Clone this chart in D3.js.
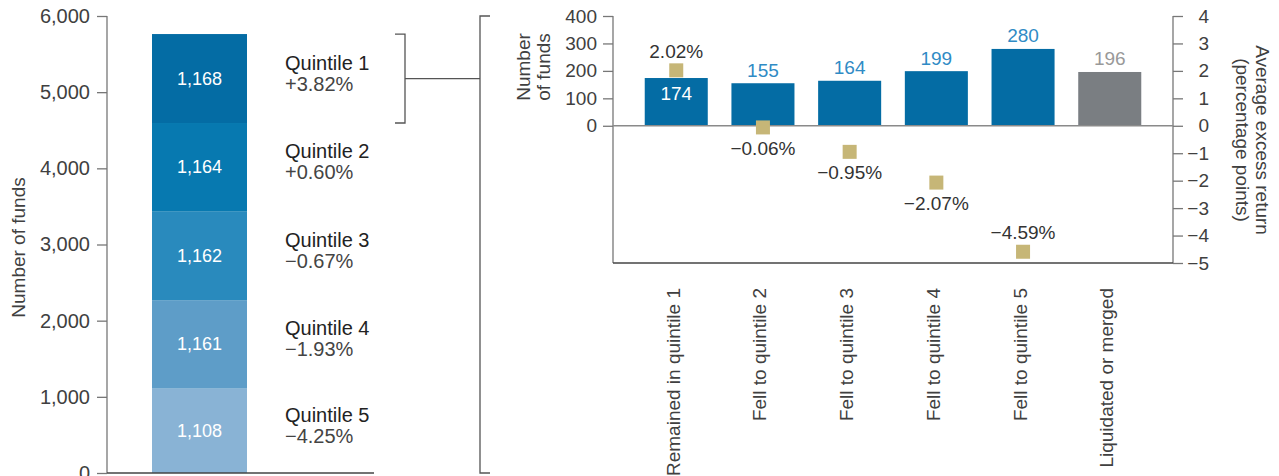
<!DOCTYPE html>
<html>
<head>
<meta charset="utf-8">
<script src="https://cdn.jsdelivr.net/npm/d3@7"></script>
<style>
  html, body { margin: 0; padding: 0; background: #fff; }
  svg { display: block; }
  text { font-family: "Liberation Sans", Arial, sans-serif; }
</style>
</head>
<body>
<svg id="chart" width="1279" height="476"></svg>
<script>
// ---- Data ----
const quintiles = ["Quintile 1", "Quintile 2", "Quintile 3", "Quintile 4", "Quintile 5"];
const quintileCounts = [1168, 1164, 1162, 1161, 1108];
const quintileReturns = ["+3.82%", "+0.60%", "\u22120.67%", "\u22121.93%", "\u22124.25%"];
const leftTicks = [0, 1000, 2000, 3000, 4000, 5000, 6000];

const outcomes = ["Remained in quintile 1", "Fell to quintile 2", "Fell to quintile 3", "Fell to quintile 4", "Fell to quintile 5", "Liquidated or merged"];
const outcomeCounts = [174, 155, 164, 199, 280, 196];
const outcomeReturns = [2.02, -0.06, -0.95, -2.07, -4.59, null];
const fundTicks = [0, 100, 200, 300, 400];
const returnTicks = [-5, -4, -3, -2, -1, 0, 1, 2, 3, 4];

// ---- Styles ----
const segColors = ["#046ca4", "#0779b0", "#298abd", "#5e9dc8", "#89b3d5"];
const barBlue = "#046ca4";
const barGray = "#7a7e82";
const labelBlue = "#2f8bc5";
const markerColor = "#c6b677";
const axisColor = "#777";
const textColor = "#404040";
const fs = 19;
const fsL = 20;

const svg = d3.select("#chart");
const fmt = d3.format(",");
const minus = v => (v < 0 ? "\u2212" : "") + Math.abs(v);

// ================= LEFT CHART =================
const yL = d3.scaleLinear().domain([0, 6000]).range([473, 16]);
const xL = d3.scaleBand().domain(["All funds"]).range([152, 247]).padding(0);
const axisXL = 107;

const gLAxis = svg.append("g").attr("transform", `translate(${axisXL},0)`)
  .call(d3.axisLeft(yL).tickValues(leftTicks).tickSize(10).tickPadding(7).tickFormat(fmt));
gLAxis.select(".domain").remove();
gLAxis.selectAll(".tick line").attr("stroke", axisColor).attr("stroke-width", 1.3);
gLAxis.selectAll(".tick text").attr("font-size", fsL).attr("fill", textColor)
  .attr("font-family", "Liberation Sans, Arial, sans-serif");
svg.append("line").attr("x1", axisXL).attr("x2", axisXL).attr("y1", yL(6000)).attr("y2", yL(0))
  .attr("stroke", axisColor).attr("stroke-width", 1.3);

svg.append("text").attr("transform", `translate(18,${(yL(0) + yL(6000)) / 2 + 3}) rotate(-90)`)
  .attr("text-anchor", "middle").attr("dominant-baseline", "central")
  .attr("font-size", fs).attr("fill", textColor).text("Number of funds");

// stacked segments: bottom is Quintile 5
let stackData = [];
let acc = 0;
for (let i = quintiles.length - 1; i >= 0; i--) {
  stackData.push({ i, y0: acc, y1: acc + quintileCounts[i] });
  acc += quintileCounts[i];
}
const segs = svg.append("g").selectAll("g").data(stackData).join("g");
segs.append("rect")
  .attr("x", xL("All funds")).attr("width", xL.bandwidth())
  .attr("y", d => yL(d.y1)).attr("height", d => yL(d.y0) - yL(d.y1))
  .attr("fill", d => segColors[d.i]);
segs.append("text")
  .attr("x", xL("All funds") + xL.bandwidth() / 2)
  .attr("y", d => (yL(d.y0) + yL(d.y1)) / 2)
  .attr("text-anchor", "middle").attr("dominant-baseline", "central")
  .attr("font-size", 18).attr("fill", "#fff")
  .text(d => fmt(quintileCounts[d.i]));
segs.append("text")
  .attr("x", 285).attr("y", d => (yL(d.y0) + yL(d.y1)) / 2 - 16)
  .attr("dominant-baseline", "central").attr("font-size", fsL).attr("fill", "#222")
  .text(d => quintiles[d.i]);
segs.append("text")
  .attr("x", 285).attr("y", d => (yL(d.y0) + yL(d.y1)) / 2 + 5)
  .attr("dominant-baseline", "central").attr("font-size", fsL).attr("fill", "#444")
  .text(d => quintileReturns[d.i]);

svg.append("line").attr("x1", axisXL).attr("x2", 374).attr("y1", yL(0)).attr("y2", yL(0))
  .attr("stroke", "#444").attr("stroke-width", 1.3);

// bracket around Quintile 1
const q1Top = yL(acc), q1Bot = yL(acc - quintileCounts[0]);
svg.append("path")
  .attr("d", `M395,${q1Top}H405V${q1Bot}H395M405,${(q1Top + q1Bot) / 2}H480M490,16H480V473H490`)
  .attr("fill", "none").attr("stroke", "#555").attr("stroke-width", 1.3);

// ================= RIGHT CHART =================
const x0 = 613, x1 = 1173;
const yRet = d3.scaleLinear().domain([-5, 4]).range([263, 16]);
const yF = d3.scaleLinear().domain([0, 400]).range([yRet(0), yRet(4)]);
const xR = d3.scaleBand().domain(outcomes).range([x0, x1]).paddingInner(0.273).paddingOuter(0.366);

// left axis (funds)
const gFA = svg.append("g").attr("transform", `translate(${x0},0)`)
  .call(d3.axisLeft(yF).tickValues(fundTicks).tickSize(10).tickPadding(6));
gFA.select(".domain").remove();
gFA.selectAll(".tick line").attr("stroke", axisColor).attr("stroke-width", 1.3);
gFA.selectAll(".tick text").attr("font-size", fs).attr("fill", textColor)
  .attr("font-family", "Liberation Sans, Arial, sans-serif");
svg.append("line").attr("x1", x0).attr("x2", x0).attr("y1", yRet(4)).attr("y2", yRet(-5))
  .attr("stroke", axisColor).attr("stroke-width", 1.3);

// right axis (returns)
const gRA = svg.append("g").attr("transform", `translate(${x1},0)`)
  .call(d3.axisRight(yRet).tickValues(returnTicks).tickSize(10).tickPadding(0).tickFormat(minus));
gRA.select(".domain").remove();
gRA.selectAll(".tick line").attr("stroke", axisColor).attr("stroke-width", 1.3);
gRA.selectAll(".tick text").attr("font-size", fs).attr("fill", textColor)
  .attr("font-family", "Liberation Sans, Arial, sans-serif")
  .attr("text-anchor", "end").attr("x", 36);
svg.append("line").attr("x1", x1).attr("x2", x1).attr("y1", yRet(4)).attr("y2", yRet(-5))
  .attr("stroke", axisColor).attr("stroke-width", 1.3);

// bottom line
svg.append("line").attr("x1", x0).attr("x2", x1).attr("y1", yRet(-5)).attr("y2", yRet(-5))
  .attr("stroke", "#444").attr("stroke-width", 1.3);

// axis titles
const t1 = svg.append("text").attr("transform", `translate(535,67) rotate(-90)`)
  .attr("text-anchor", "middle").attr("font-size", fs).attr("fill", textColor);
t1.append("tspan").attr("x", 0).attr("dy", "-0.25em").text("Number");
t1.append("tspan").attr("x", 0).attr("dy", "1.05em").text("of funds");

const t2 = svg.append("text").attr("transform", `translate(1251,140) rotate(90)`)
  .attr("text-anchor", "middle").attr("font-size", fs).attr("fill", textColor);
t2.append("tspan").attr("x", 0).attr("dy", "-0.25em").text("Average excess return");
t2.append("tspan").attr("x", 0).attr("dy", "1.05em").text("(percentage points)");

// bars
const bars = svg.append("g").selectAll("g").data(outcomes).join("g");
bars.append("rect")
  .attr("x", d => xR(d)).attr("width", xR.bandwidth())
  .attr("y", (d, i) => yF(outcomeCounts[i]))
  .attr("height", (d, i) => yF(0) - yF(outcomeCounts[i]))
  .attr("fill", (d, i) => outcomeReturns[i] === null ? barGray : barBlue);

// zero line
svg.append("line").attr("x1", x0).attr("x2", x1).attr("y1", yRet(0)).attr("y2", yRet(0))
  .attr("stroke", "#8a8a8a").attr("stroke-width", 1.6);

// count labels
bars.append("text")
  .attr("x", d => xR(d) + xR.bandwidth() / 2)
  .attr("y", (d, i) => {
    const inside = outcomeReturns[i] !== null && yRet(outcomeReturns[i]) < yF(outcomeCounts[i]);
    return inside ? yF(outcomeCounts[i]) + 15 : yF(outcomeCounts[i]) - 13;
  })
  .attr("text-anchor", "middle").attr("dominant-baseline", "central").attr("font-size", fs)
  .attr("fill", (d, i) => {
    const inside = outcomeReturns[i] !== null && yRet(outcomeReturns[i]) < yF(outcomeCounts[i]);
    if (inside) return "#fff";
    return outcomeReturns[i] === null ? "#999" : labelBlue;
  })
  .text((d, i) => outcomeCounts[i]);

// markers
const mk = 14;
const mData = outcomes.map((d, i) => ({ d, v: outcomeReturns[i] })).filter(o => o.v !== null);
const mg = svg.append("g").selectAll("g").data(mData).join("g");
mg.append("rect")
  .attr("x", o => xR(o.d) + xR.bandwidth() / 2 - mk / 2)
  .attr("y", o => yRet(o.v) - mk / 2)
  .attr("width", mk).attr("height", mk).attr("fill", markerColor);
mg.append("text")
  .attr("x", o => xR(o.d) + xR.bandwidth() / 2)
  .attr("y", o => (o.v > 0 || o.v < -4) ? yRet(o.v) - 19 : yRet(o.v) + 21)
  .attr("text-anchor", "middle").attr("dominant-baseline", "central").attr("font-size", fs)
  .attr("fill", "#333")
  .text(o => (o.v < 0 ? "\u2212" : "") + Math.abs(o.v).toFixed(2) + "%");

// x labels
svg.append("g").selectAll("text").data(outcomes).join("text")
  .attr("transform", d => `translate(${xR(d) + xR.bandwidth() / 2 - 3},288) rotate(-90)`)
  .attr("text-anchor", "end").attr("dominant-baseline", "central").attr("font-size", fs)
  .attr("fill", textColor)
  .text(d => d);
</script>
</body>
</html>
